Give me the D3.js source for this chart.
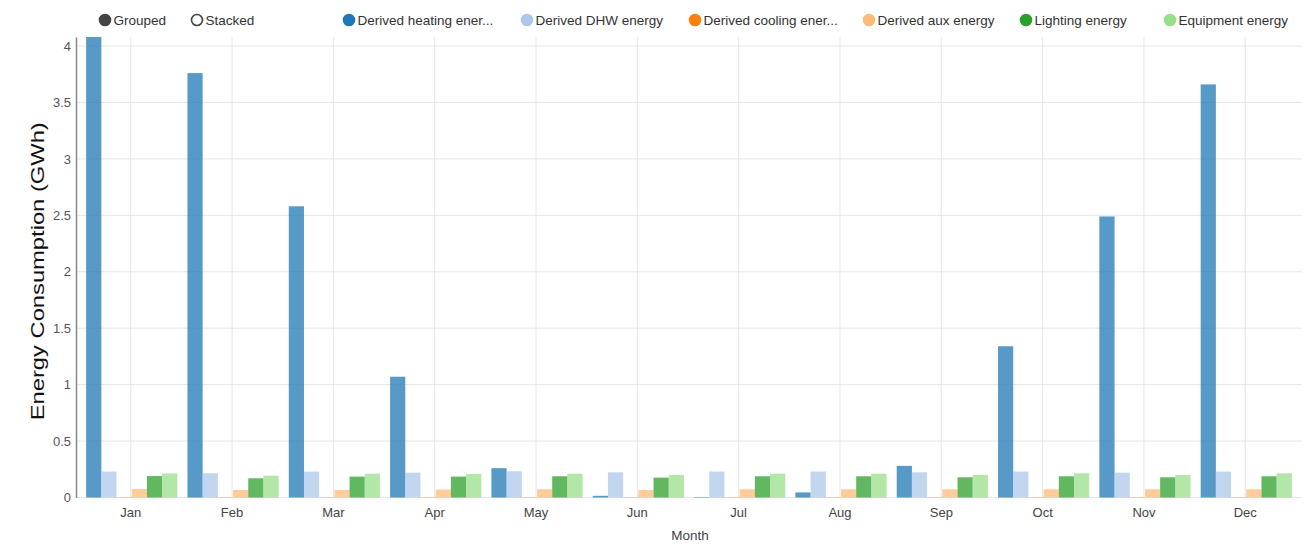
<!DOCTYPE html>
<html><head><meta charset="utf-8">
<script src="https://cdn.jsdelivr.net/npm/d3@7"></script>
<style>
body{margin:0;background:#fff;font-family:"Liberation Sans",Arial,sans-serif;}
svg text{font-family:"Liberation Sans",Arial,sans-serif;}
</style></head>
<body><svg id="c" width="1305" height="544"></svg>
<script>
const months = ["Jan","Feb","Mar","Apr","May","Jun","Jul","Aug","Sep","Oct","Nov","Dec"];
const seriesNames = ["Derived heating ener...","Derived DHW energy","Derived cooling ener...","Derived aux energy","Lighting energy","Equipment energy"];
const seriesColors = ["#1f77b4","#aec7e8","#ff7f0e","#ffbb78","#2ca02c","#98df8a"];
const heating   = [4.08, 3.76, 2.58, 1.07, 0.26, 0.015, 0.004, 0.045, 0.28, 1.34, 2.49, 3.66];
const dhw       = [0.23, 0.215, 0.23, 0.22, 0.232, 0.223, 0.23, 0.23, 0.223, 0.23, 0.22, 0.23];
const cooling   = [0.003, 0.003, 0.003, 0.003, 0.003, 0.003, 0.003, 0.003, 0.003, 0.003, 0.003, 0.003];
const aux       = [0.075, 0.067, 0.067, 0.071, 0.073, 0.066, 0.073, 0.073, 0.073, 0.073, 0.073, 0.073];
const lighting  = [0.19, 0.17, 0.185, 0.185, 0.188, 0.176, 0.188, 0.188, 0.179, 0.188, 0.179, 0.188];
const equipment = [0.213, 0.193, 0.211, 0.208, 0.211, 0.2, 0.211, 0.211, 0.2, 0.215, 0.2, 0.215];
const yTicks = [0, 0.5, 1, 1.5, 2, 2.5, 3, 3.5, 4];
const modeLabels = ["Grouped","Stacked"];

const seriesValues = [heating, dhw, cooling, aux, lighting, equipment];
const svg = d3.select("#c");
const L = 76, R = 1302, T = 37, B = 497.5;

const x = d3.scaleBand().domain(months).range([L, R]).paddingInner(0.1).paddingOuter(0.1);
const xs = d3.scaleBand().domain(d3.range(seriesNames.length)).range([0, x.bandwidth()]);
const y = d3.scaleLinear().domain([0, d3.max(heating)]).range([B, T]);

// grid
const g = svg.append("g");
g.selectAll("line.hg").data(yTicks).join("line")
  .attr("x1", L).attr("x2", R).attr("y1", d => y(d)).attr("y2", d => y(d))
  .attr("stroke", "#e6e6e6").attr("stroke-width", 1);
g.selectAll("line.vg").data(months).join("line")
  .attr("x1", d => x(d) + x.bandwidth()/2 - 1).attr("x2", d => x(d) + x.bandwidth()/2 - 1)
  .attr("y1", T).attr("y2", B)
  .attr("stroke", "#e6e6e6").attr("stroke-width", 1);

// bars
seriesValues.forEach((vals, si) => {
  svg.append("g").selectAll("rect").data(vals).join("rect")
    .attr("x", (d, i) => x(months[i]) + xs(si))
    .attr("width", xs.bandwidth())
    .attr("y", d => y(d))
    .attr("height", d => B - y(d))
    .attr("fill", seriesColors[si])
    .attr("fill-opacity", 0.75);
});

// y axis
const ya = svg.append("g").attr("transform", `translate(${L},0)`)
  .call(d3.axisLeft(y).tickValues(yTicks).tickSize(0).tickPadding(5).tickFormat(d3.format("")));
ya.select(".domain").attr("stroke", "#888").attr("stroke-width", 1.5);
ya.selectAll("text").attr("font-size", 13).attr("fill", "#555");

// x axis
const xa = svg.append("g").attr("transform", `translate(-1,${B})`)
  .call(d3.axisBottom(x).tickSize(0).tickPadding(10));
xa.select(".domain").remove();
xa.selectAll("text").attr("font-size", 13).attr("fill", "#444");

svg.append("text").attr("x", 690).attr("y", 540).attr("text-anchor", "middle")
  .attr("font-size", 13.5).attr("fill", "#444").text("Month");
svg.append("text").attr("transform", `translate(44,${(T + B)/2 + 4}) rotate(-90)`)
  .attr("text-anchor", "middle").attr("font-size", 19).attr("fill", "#111")
  .attr("textLength", 298).attr("lengthAdjust", "spacingAndGlyphs")
  .text("Energy Consumption (GWh)");

// controls legend
const ctrlX = [105, 197];
modeLabels.forEach((lab, i) => {
  svg.append("circle").attr("cx", ctrlX[i]).attr("cy", 20).attr("r", 5.5)
    .attr("fill", i === 0 ? "#444" : "#fff").attr("stroke", "#444").attr("stroke-width", 1.6);
  svg.append("text").attr("x", ctrlX[i] + 8.5).attr("y", 25)
    .attr("font-size", 13.5).attr("fill", "#333").text(lab);
});

// series legend
const legX = [349, 527, 695, 869, 1026, 1170];
seriesNames.forEach((lab, i) => {
  svg.append("circle").attr("cx", legX[i]).attr("cy", 20).attr("r", 5.5)
    .attr("fill", seriesColors[i]).attr("stroke", seriesColors[i]).attr("stroke-width", 1.6);
  svg.append("text").attr("x", legX[i] + 8.5).attr("y", 25)
    .attr("font-size", 13.5).attr("fill", "#333").text(lab);
});
</script></body></html>
